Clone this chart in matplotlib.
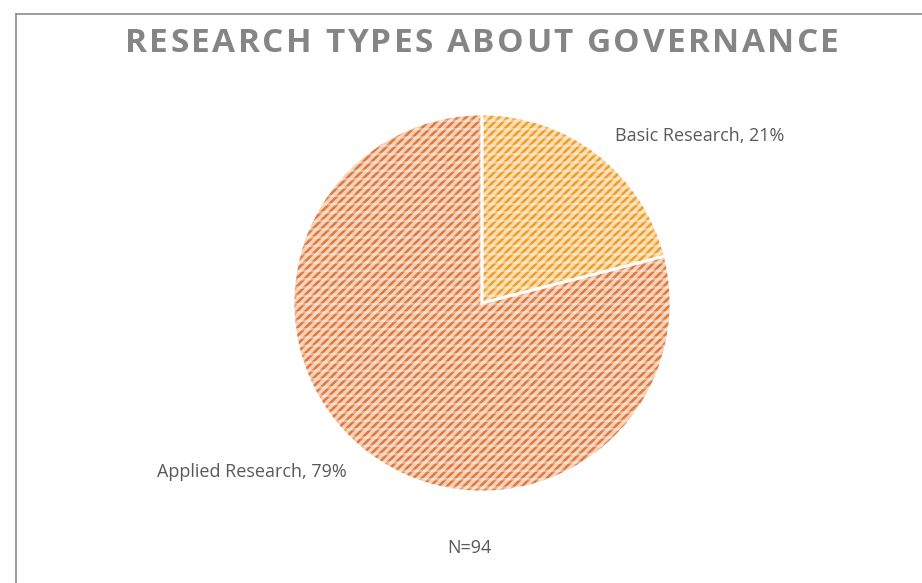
import matplotlib.pyplot as plt
from matplotlib.lines import Line2D

# Research types about governance
categorias = ['Basic Research', 'Applied Research']
porcentajes = [21, 79]
n_total = 94

titulo = 'RESEARCH TYPES ABOUT GOVERNANCE'
color_fondo = ['#FBDDB0', '#F6D0B8']
color_trama = ['#EE9E2C', '#DE7A3E']

W, H = 922, 583
fig = plt.figure(figsize=(W / 100, H / 100), dpi=100)
plt.rcParams['hatch.linewidth'] = 1.8

# Chart frame (left and top edges only are visible)
fig.add_artist(Line2D([16 / W, 16 / W], [0, 1 - 14 / H], color='#8C8C8C', lw=1.2))
fig.add_artist(Line2D([16 / W, 1], [1 - 14 / H, 1 - 14 / H], color='#8C8C8C', lw=1.2))

# Pie axes placed in pixel coordinates
cx, cy, r = 482, 303, 189
ax = fig.add_axes([(cx - r) / W, (H - cy - r) / H, 2 * r / W, 2 * r / H])

wedges, _ = ax.pie(porcentajes, startangle=90, counterclock=False, radius=1,
                   colors=color_fondo, wedgeprops=dict(linewidth=0))
for w, c in zip(wedges, color_trama):
    w.set_hatch('////')
    w.set_edgecolor(c)

# light horizontal bands on top of the diagonal pattern
bandas, _ = ax.pie(porcentajes, startangle=90, counterclock=False, radius=1,
                   colors=['none', 'none'], wedgeprops=dict(linewidth=0))
for w in bandas:
    w.set_hatch('--')
    w.set_edgecolor((1, 1, 1, 0.4))

# white slice borders
ax.pie(porcentajes, startangle=90, counterclock=False, radius=1,
       colors=['none', 'none'], wedgeprops=dict(linewidth=2, edgecolor='white'))
ax.set_xlim(-1, 1)
ax.set_ylim(-1, 1)
ax.axis('off')

fuente = 'Open Sans'

# Title drawn letter by letter to get the wide tracking
renderer = fig.canvas.get_renderer()
props = dict(fontsize=24, fontweight='bold', color='#858585', family=fuente,
             va='center', ha='left')
letras = [fig.text(0, 1 - 43 / H, ch, **props) for ch in titulo]
anchos = [t.get_window_extent(renderer).width if ch != ' ' else 9 for t, ch in zip(letras, titulo)]
espacio = 2.4
total = sum(anchos) + espacio * (len(titulo) - 1)
x = cx - total / 2
for t, a in zip(letras, anchos):
    t.set_x(x / W)
    x += a + espacio

fig.text(700 / W, 1 - 136 / H, f'{categorias[0]}, {porcentajes[0]}%', ha='center', va='center',
         fontsize=13, color='#595959', family=fuente)
fig.text(252 / W, 1 - 472 / H, f'{categorias[1]}, {porcentajes[1]}%', ha='center', va='center',
         fontsize=13, color='#595959', family=fuente)
fig.text(469 / W, 1 - 548 / H, f'N={n_total}', ha='center', va='center',
         fontsize=13, color='#595959', family=fuente)

fig.savefig('out.png', dpi=100, facecolor='white')
plt.close(fig)
